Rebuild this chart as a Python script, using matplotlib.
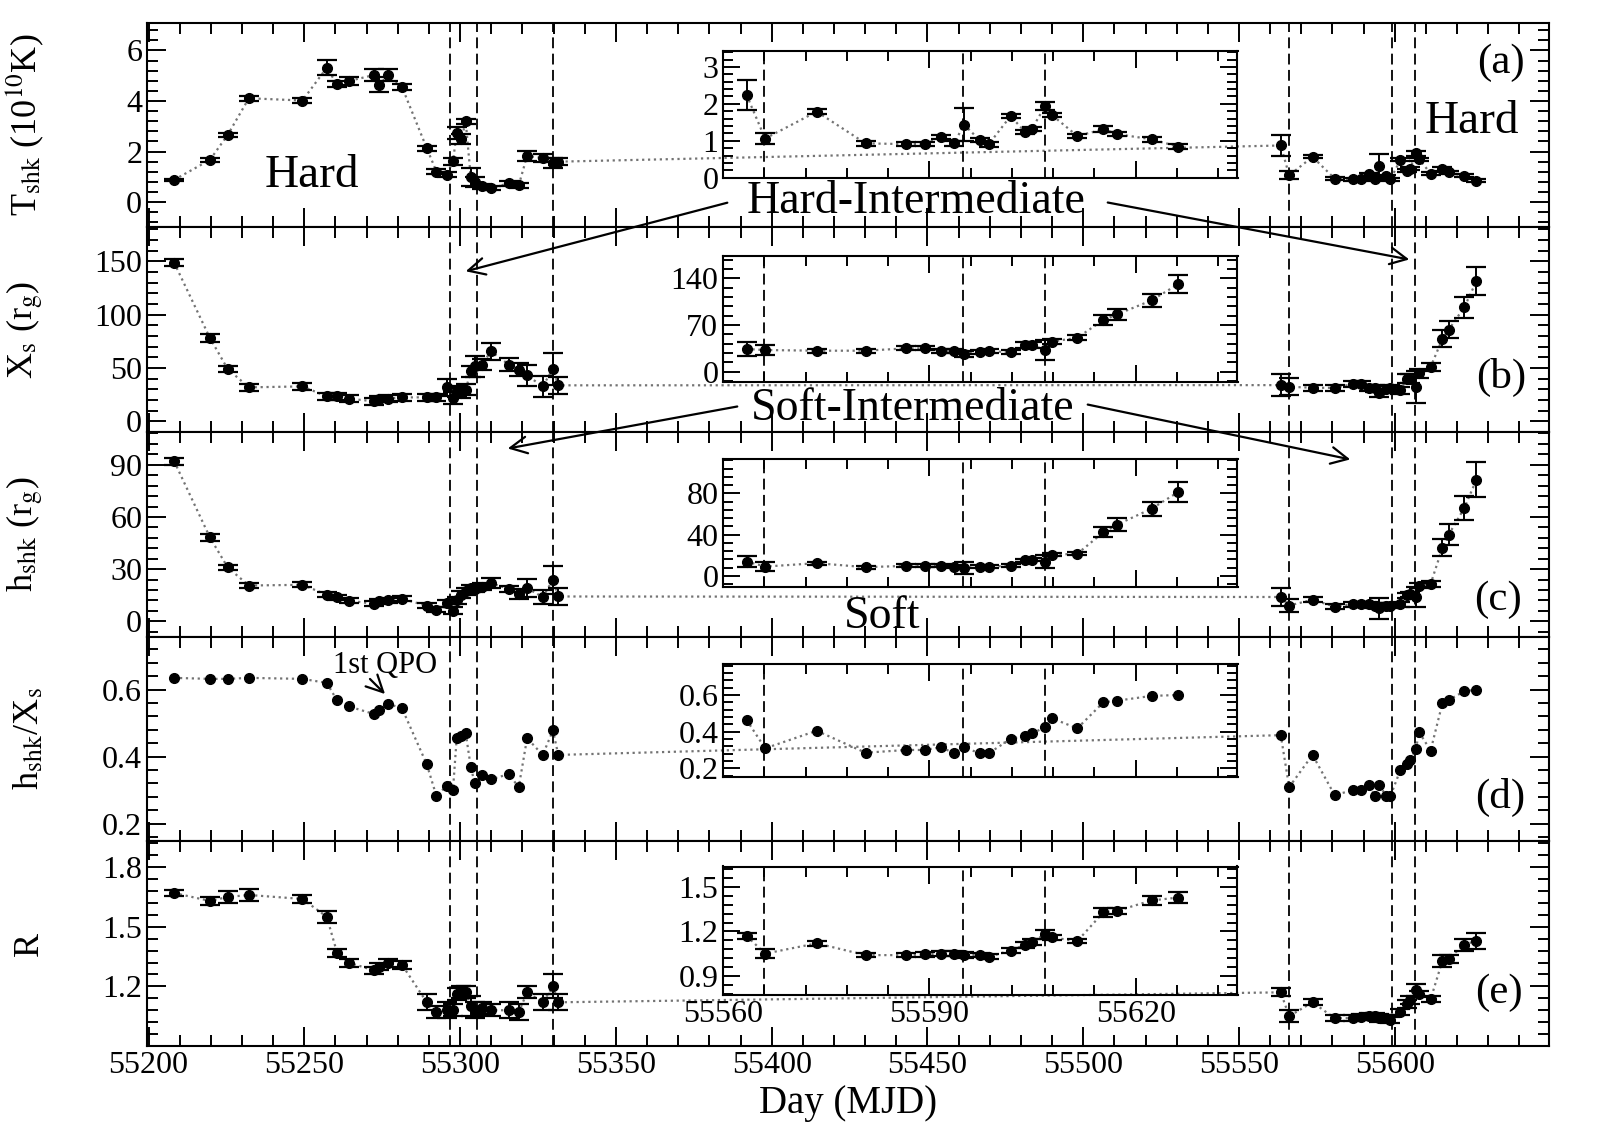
import numpy as np
import matplotlib
matplotlib.use("Agg")
import matplotlib.pyplot as plt
from matplotlib.ticker import MultipleLocator, FixedLocator
from matplotlib.patches import FancyArrowPatch

plt.rcParams["font.family"] = ["Liberation Serif", "DejaVu Serif"]
plt.rcParams["mathtext.fontset"] = "stix"

W, H = 1608, 1138

# observation days (MJD), rising part of the outburst and the decline
mjd_left = [55208.2, 55219.7, 55225.4, 55232.2, 55249.4, 55257.2, 55260.5, 55264.2,
            55272.4, 55274.0, 55277.0, 55281.3, 55289.3, 55292.4, 55295.7, 55297.7,
            55298.9, 55300.4, 55301.8, 55303.4, 55304.7, 55306.9, 55309.9, 55315.7,
            55318.8, 55321.5, 55326.5, 55329.8, 55331.5]
mjd_right = [55563.4, 55566.1, 55573.6, 55580.7, 55586.6, 55589.3, 55591.7, 55593.6,
             55595.0, 55597.3, 55598.6, 55601.8, 55603.9, 55604.9, 55606.8, 55607.8,
             55611.5, 55615.3, 55617.3, 55622.3, 55626.2]

# (a) shock temperature, 10^10 K
tshk_left = [0.88, 1.67, 2.66, 4.11, 4.02, 5.32, 4.66, 4.79, 5.03, 4.64, 5.03, 4.57,
             2.13, 1.21, 1.08, 1.61, 2.73, 2.49, 3.19, 1.00, 0.80, 0.62, 0.55, 0.75,
             0.66, 1.83, 1.74, 1.54, 1.60]
tshk_left_err = [0.05, 0.08, 0.08, 0.1, 0.1, 0.3, 0.12, 0.15, 0.25, 0.3, 0.25, 0.12,
                 0.1, 0.1, 0.1, 0.15, 0.25, 0.2, 0.1, 0.35, 0.2, 0.1, 0.08, 0.1,
                 0.1, 0.2, 0.15, 0.2, 0.15]
tshk_right = [2.24, 1.06, 1.79, 0.93, 0.91, 0.91, 1.11, 0.93, 1.44, 1.02, 0.90, 1.67,
              1.24, 1.32, 1.94, 1.70, 1.13, 1.31, 1.18, 1.04, 0.84]
tshk_right_err = [0.4, 0.16, 0.06, 0.06, 0.06, 0.06, 0.06, 0.06, 0.45, 0.06, 0.06, 0.06,
                  0.06, 0.06, 0.1, 0.06, 0.06, 0.08, 0.06, 0.06, 0.06]

# (b) shock location, r_g
xs_left = [149, 78.2, 49.1, 31.9, 32.8, 23.4, 23.4, 21.3, 18.8, 21.0, 21.3, 22.5,
           22.5, 22.5, 31.9, 21.9, 28.1, 26.6, 29.7, 46.9, 51.6, 53.2, 65.6, 53.2,
           48.5, 43.1, 32.8, 49.4, 33.8]
xs_left_err = [3, 4, 3, 3, 3, 3, 3, 3, 3, 3, 3, 3, 3, 3, 8, 6, 5, 5, 5, 5, 10, 5, 8,
               6, 6, 10, 10, 15, 8]
xs_right = [34, 32.5, 31.5, 31.5, 35, 35, 31.5, 31, 26.5, 30, 31, 29, 40, 40, 32.5,
            45, 51, 77.5, 86, 107, 131.5]
xs_right_err = [10, 8, 3, 3, 3, 3, 3, 3, 4, 3, 3, 3, 4, 4, 15, 4, 4, 8, 8, 10, 13]

# (c) shock height, r_g
hshk_left = [92.1, 48.2, 31.0, 20.6, 21.0, 15.3, 13.8, 11.9, 10.1, 11.5, 12.0, 13.0,
             9.0, 6.7, 10.5, 6.1, 12.0, 15.3, 17.2, 19.1, 18.6, 20.0, 22.0, 18.6,
             15.7, 19.1, 14.0, 23.9, 14.3]
hshk_left_err = [2, 2, 1.5, 1.5, 1.5, 1.5, 1.5, 1.5, 1.5, 1.5, 1.5, 1.5, 1.5, 1.5, 2,
                 2, 2, 2, 2, 2, 2, 2, 3, 2, 3, 5, 4, 8, 5]
hshk_right = [14.0, 9.1, 12.4, 8.5, 9.8, 9.8, 9.8, 9.1, 7.5, 9.1, 9.1, 9.8, 15.0, 15.6,
              14.0, 20.5, 21.5, 42.3, 49.8, 65.1, 81.4]
hshk_right_err = [5, 4, 1.5, 1.5, 1.5, 1.5, 1.5, 1.5, 6, 1.5, 1.5, 1.5, 1.5, 1.5, 6,
                  1.5, 1.5, 5, 6, 7, 10]

# (d) h_shk / X_s
ratio_left = [0.635, 0.632, 0.632, 0.635, 0.632, 0.62, 0.568, 0.55, 0.527, 0.54, 0.557,
              0.545, 0.377, 0.282, 0.313, 0.30, 0.455, 0.462, 0.47, 0.37, 0.32, 0.345,
              0.332, 0.348, 0.308, 0.455, 0.405, 0.478, 0.405]
ratio_right = [0.464, 0.309, 0.405, 0.285, 0.30, 0.30, 0.315, 0.282, 0.315, 0.282,
               0.282, 0.36, 0.378, 0.39, 0.424, 0.473, 0.418, 0.56, 0.569, 0.595, 0.60]

# (e) compression ratio
r_left = [1.67, 1.63, 1.65, 1.66, 1.64, 1.55, 1.37, 1.32, 1.28, 1.30, 1.32, 1.31,
          1.12, 1.07, 1.08, 1.08, 1.16, 1.17, 1.17, 1.10, 1.08, 1.09, 1.08, 1.08,
          1.07, 1.17, 1.12, 1.20, 1.12]
r_left_err = [0.015, 0.02, 0.03, 0.03, 0.02, 0.03, 0.02, 0.02, 0.02, 0.02, 0.02, 0.02,
              0.04, 0.03, 0.04, 0.03, 0.03, 0.03, 0.03, 0.05, 0.04, 0.03, 0.03, 0.04,
              0.04, 0.03, 0.04, 0.06, 0.04]
r_right = [1.17, 1.05, 1.12, 1.04, 1.04, 1.045, 1.05, 1.05, 1.04, 1.04, 1.03, 1.07,
           1.11, 1.13, 1.18, 1.16, 1.135, 1.33, 1.34, 1.41, 1.43]
r_right_err = [0.02, 0.03, 0.015, 0.015, 0.015, 0.015, 0.015, 0.015, 0.02, 0.015,
               0.015, 0.015, 0.02, 0.02, 0.03, 0.015, 0.015, 0.03, 0.02, 0.03, 0.04]

# state transition days
trans_main = [55296.7, 55305.3, 55329.8, 55566.0, 55599.0, 55606.4]
trans_inset = [55565.9, 55594.9, 55606.8]

ylabels = [r"T$_{\rm shk}$ (10$^{10}$K)", r"X$_{\rm s}$ (r$_{\rm g}$)",
           r"h$_{\rm shk}$ (r$_{\rm g}$)", r"h$_{\rm shk}$/X$_{\rm s}$", "R"]
panel_tags = ["(a)", "(b)", "(c)", "(d)", "(e)"]


def fx(x):
    return x / W


def fy(y):
    return 1 - y / H


def draw_series(ax, x, y, err):
    ax.plot(x, y, ls=":", color="0.45", lw=1.6, zorder=1)
    if err is None:
        ax.plot(x, y, "o", color="k", ms=7, zorder=3)
    else:
        ax.errorbar(x, y, yerr=err, fmt="o", color="k", ms=7, capsize=7,
                    elinewidth=1.4, capthick=1.6, zorder=3)


def style_ticks(ax, major, minor, size):
    ax.tick_params(which="both", direction="in", top=True, right=True,
                   labelsize=23, width=1.4)
    ax.tick_params(which="major", length=size)
    ax.tick_params(which="minor", length=size * 0.58)
    ax.yaxis.set_major_locator(FixedLocator(major))
    ax.yaxis.set_minor_locator(MultipleLocator(minor))
    for s in ax.spines.values():
        s.set_linewidth(1.5)


fig = plt.figure(figsize=(W / 100, H / 100), dpi=100)
axes = fig.subplots(5, 1, sharex=True)
fig.subplots_adjust(left=147 / W, right=1549 / W, top=fy(22.7), bottom=fy(1046), hspace=0)

panels = [
    (tshk_left, tshk_right, tshk_left_err, tshk_right_err),
    (xs_left, xs_right, xs_left_err, xs_right_err),
    (hshk_left, hshk_right, hshk_left_err, hshk_right_err),
    (ratio_left, ratio_right, None, None),
    (r_left, r_right, r_left_err, r_right_err),
]
main_ylim = [(-1.0, 7.1), (-10, 182), (-8.8, 108.8), (0.147, 0.758), (0.90, 1.93)]
main_yticks = [([0, 2, 4, 6], 0.4), ([0, 50, 100, 150], 10), ([0, 30, 60, 90], 6),
               ([0.2, 0.4, 0.6], 0.04), ([1.2, 1.5, 1.8], 0.06)]
inset_ylim = [(0, 3.44), (-15, 174), (-10.4, 113), (0.151, 0.769), (0.77, 1.64)]
inset_yticks = [([0, 1, 2, 3], 0.2), ([0, 70, 140], 14), ([0, 40, 80], 8),
                ([0.2, 0.4, 0.6], 0.04), ([0.9, 1.2, 1.5], 0.06)]
inset_box = [(50.7, 177.7), (255.7, 381.7), (459.3, 586.7), (664, 777.3), (866.5, 995)]
tag_pos = [(1501, 63), (1501, 377), (1498, 600), (1500, 797), (1499, 993)]

for i, ax in enumerate(axes):
    yl, yr, el, er = panels[i]
    x_all = mjd_left + mjd_right
    y_all = list(yl) + list(yr)
    e_all = None if el is None else list(el) + list(er)
    draw_series(ax, x_all, y_all, e_all)
    for t in trans_main:
        ax.axvline(t, color="k", lw=1.3, ls=(0, (6, 3)), zorder=2)
    ax.set_xlim(55199.5, 55649.5)
    ax.set_ylim(*main_ylim[i])
    style_ticks(ax, *main_yticks[i], 14)
    ax.xaxis.set_major_locator(MultipleLocator(50))
    ax.xaxis.set_minor_locator(MultipleLocator(10))
    ax.set_ylabel(ylabels[i], fontsize=26)
    ax.yaxis.set_label_coords(-0.072, 0.5)

    # zoom on the decline, transparent so the main dotted line shows through
    top, bot = inset_box[i]
    ins = fig.add_axes([fx(723.2), fy(bot), (1237.5 - 723.2) / W, (bot - top) / H])
    ins.patch.set_alpha(0)
    draw_series(ins, mjd_right, yr, er)
    for t in trans_inset:
        ins.axvline(t, color="k", lw=1.3, ls=(0, (6, 3)), zorder=2)
    ins.set_xlim(55560, 55634.8)
    ins.set_ylim(*inset_ylim[i])
    style_ticks(ins, *inset_yticks[i], 12)
    ins.xaxis.set_major_locator(FixedLocator([55560, 55590, 55620]))
    ins.xaxis.set_minor_locator(MultipleLocator(6))
    if i < 4:
        ins.tick_params(labelbottom=False)

    fig.text(fx(tag_pos[i][0]), fy(tag_pos[i][1]), panel_tags[i], fontsize=31,
             ha="center", va="center")

axes[-1].set_xlabel("Day (MJD)", fontsize=28)

# state names
fig.text(fx(312), fy(187), "Hard", fontsize=34, ha="center", va="baseline")
fig.text(fx(1472), fy(133), "Hard", fontsize=34, ha="center", va="baseline")
fig.text(fx(916), fy(213), "Hard-Intermediate", fontsize=33, ha="center", va="baseline")
fig.text(fx(913), fy(420), "Soft-Intermediate", fontsize=33, ha="center", va="baseline")
fig.text(fx(882), fy(628), "Soft", fontsize=33, ha="center", va="baseline")
fig.text(fx(385), fy(673), "1st QPO", fontsize=22, ha="center", va="baseline")

arrows = [((730, 202), (463, 272)), ((1105, 202), (1412, 260)),
          ((740, 406), (505, 449)), ((1085, 404), (1353, 460)),
          ((368, 677), (387, 696))]
for (x0, y0), (x1, y1) in arrows:
    fig.add_artist(FancyArrowPatch((fx(x0), fy(y0)), (fx(x1), fy(y1)),
                                   transform=fig.transFigure,
                                   arrowstyle="->,head_length=0.6,head_width=0.3",
                                   mutation_scale=20, lw=1.6, color="k"))

fig.savefig("out.png", dpi=100, facecolor="white")
